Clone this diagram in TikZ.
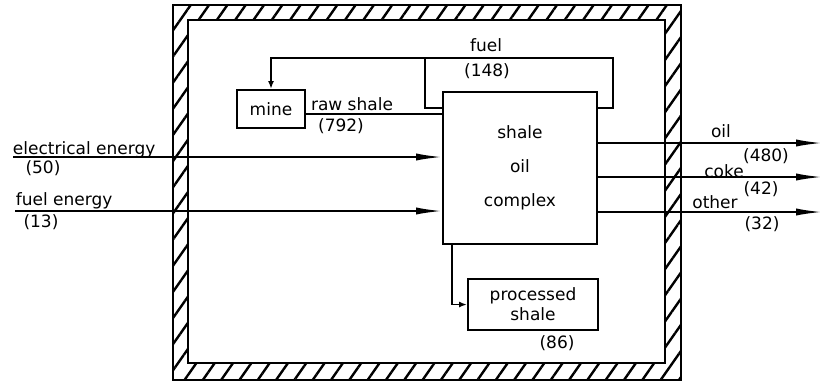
\documentclass[tikz,border=0pt]{standalone}
\usepackage{fontspec}
\setmainfont{DejaVu Sans}
\usetikzlibrary{arrows.meta,patterns.meta}

\begin{document}
\begin{tikzpicture}[x=0.5pt,y=-0.5pt,font=\fontsize{8.5}{10}\selectfont,line width=0.9pt,
  box/.style={draw,line width=1pt,inner sep=0pt,align=center},
  flow/.style={-{Latex[length=13pt,width=3.6pt]}},
  tip/.style={-{Latex[length=4pt,width=3pt]}}]
  \useasboundingbox (0,0) rectangle (824,382);
  % hatched wall
  \fill[even odd rule,pattern={Lines[angle=55,distance=7.5pt,line width=1.2pt]}]
    (173,5) rectangle (681,380) (188,20) rectangle (665,363);
  \draw[line width=1.3pt] (173,5) rectangle (681,380) (188,20) rectangle (665,363);
  % boxes
  \node[box,minimum width=77pt,minimum height=76pt] (complex) at (520,168) {shale\\[7pt]oil\\[7pt]complex};
  \node[box,minimum width=34pt,minimum height=19pt] (mine) at (271,109) {mine};
  \node[box,minimum width=65pt,minimum height=25.5pt] (proc) at (533,304.5) {processed\\shale};
  % ends
  \coordinate (elin) at (13,157);
  \coordinate (fuin) at (15,211);
  \coordinate (oilout) at (822,143);
  \coordinate (cokeout) at (822,177);
  \coordinate (othout) at (822,212);
  \coordinate (loopr) at (613,58);
  \coordinate (loopl) at (425,58);
  % flows
  \draw[flow] (elin) -- (elin -| complex.west);
  \draw[flow] (fuin) -- (fuin -| complex.west);
  \draw[flow] (oilout -| complex.east) -- (oilout);
  \draw[flow] (cokeout -| complex.east) -- (cokeout);
  \draw[flow] (othout -| complex.east) -- (othout);
  \draw[tip] (complex.east |- 0,108) -| (loopr) -| (mine.north);
  \draw (loopl) |- (complex.west |- 0,108);
  \draw (mine.east |- 0,114) -- (complex.west |- 0,114);
  \draw[tip] (complex.south -| 452,0) |- (proc.west);
  % labels
  \node (fuel) at (486,45) {fuel};
  \node (fuelv) at (487,71) {(148)};
  \node (raw) at (352,104) {raw shale};
  \node (rawv) at (341,126) {(792)};
  \node[anchor=base west,inner sep=0pt] (elec) at (12,154) {electrical energy};
  \node (elecv) at (43,168) {(50)};
  \node[anchor=base west,inner sep=0pt] (fuen) at (15,205) {fuel energy};
  \node (fuenv) at (41,222) {(13)};
  \node (oil) at (721,131) {oil};
  \node (oilv) at (766,156) {(480)};
  \node (coke) at (724,171) {coke};
  \node (cokev) at (761,189) {(42)};
  \node (other) at (715,202) {other};
  \node (otherv) at (762,224) {(32)};
  \node (procv) at (557,343) {(86)};
\end{tikzpicture}
\end{document}
